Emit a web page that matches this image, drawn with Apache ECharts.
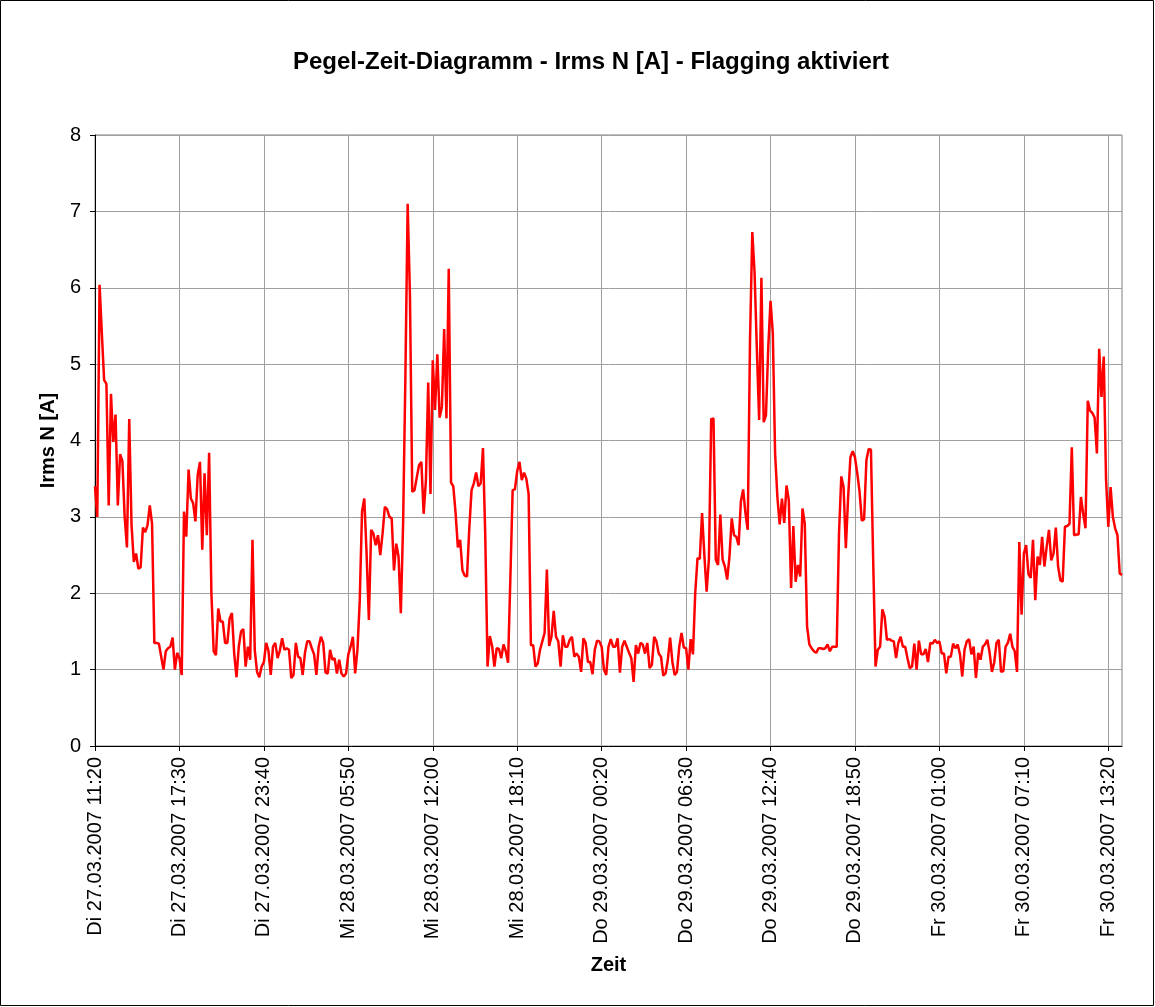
<!DOCTYPE html>
<html>
<head>
<meta charset="utf-8">
<title>Pegel-Zeit-Diagramm</title>
<script src="https://cdn.jsdelivr.net/npm/echarts@6/dist/echarts.min.js"></script>
<style>
  html, body { margin: 0; padding: 0; background: #fff; }
  #chart { width: 1155px; height: 1007px; }
</style>
</head>
<body>
<div id="chart"></div>
<script>
// Messreihe: alle 10 Minuten ab Di 27.03.2007 11:20
const startTime = Date.UTC(2007, 2, 27, 11, 20);
const stepMinutes = 10;
const weekdays = ["So", "Mo", "Di", "Mi", "Do", "Fr", "Sa"];

const irmsN = [
  3.4, 3.0, 6.04, 5.4, 4.79, 4.74, 3.15, 4.61, 3.98, 4.34,
  3.15, 3.82, 3.73, 3.0, 2.6, 4.28, 2.9, 2.41, 2.52, 2.32,
  2.34, 2.86, 2.8, 2.89, 3.15, 2.91, 1.35, 1.35, 1.34, 1.17,
  1.0, 1.24, 1.28, 1.3, 1.42, 1.0, 1.22, 1.15, 0.93, 3.07,
  2.74, 3.62, 3.24, 3.18, 2.94, 3.55, 3.72, 2.57, 3.57, 2.76,
  3.84, 2.0, 1.24, 1.19, 1.8, 1.63, 1.63, 1.35, 1.35, 1.67,
  1.74, 1.21, 0.9, 1.3, 1.5, 1.53, 1.04, 1.3, 1.13, 2.7,
  1.26, 0.97, 0.9, 1.04, 1.1, 1.35, 1.25, 0.93, 1.3, 1.35,
  1.15, 1.25, 1.41, 1.26, 1.28, 1.26, 0.89, 0.93, 1.35, 1.17,
  1.15, 0.93, 1.22, 1.37, 1.37, 1.28, 1.2, 0.93, 1.3, 1.43,
  1.35, 0.96, 0.95, 1.26, 1.13, 1.15, 0.95, 1.13, 0.95, 0.91,
  0.95, 1.2, 1.3, 1.43, 0.95, 1.26, 1.9, 3.07, 3.24, 2.52,
  1.65, 2.83, 2.78, 2.63, 2.76, 2.5, 2.78, 3.13, 3.1, 3.0,
  2.98, 2.3, 2.65, 2.48, 1.74, 2.91, 4.83, 7.1, 5.9, 3.33,
  3.35, 3.52, 3.68, 3.72, 3.04, 3.48, 4.76, 3.3, 5.05, 4.4,
  5.13, 4.3, 4.44, 5.46, 4.29, 6.25, 3.45, 3.4, 3.05, 2.6,
  2.7, 2.3, 2.23, 2.22, 2.85, 3.35, 3.44, 3.58, 3.4, 3.44,
  3.9, 2.75, 1.04, 1.44, 1.31, 1.04, 1.28, 1.27, 1.15, 1.33,
  1.24, 1.09, 2.2, 3.35, 3.36, 3.6, 3.72, 3.48, 3.58, 3.5,
  3.3, 1.32, 1.32, 1.04, 1.08, 1.26, 1.37, 1.48, 2.31, 1.31,
  1.43, 1.77, 1.43, 1.37, 1.04, 1.45, 1.3, 1.3, 1.39, 1.43,
  1.17, 1.21, 1.17, 0.97, 1.41, 1.35, 1.1, 1.1, 0.94, 1.26,
  1.38, 1.37, 1.3, 1.0, 0.93, 1.3, 1.4, 1.3, 1.3, 1.41,
  0.96, 1.3, 1.38, 1.3, 1.22, 1.15, 0.84, 1.32, 1.21, 1.35,
  1.33, 1.21, 1.35, 1.02, 1.06, 1.43, 1.37, 1.21, 1.17, 0.92,
  0.95, 1.13, 1.42, 1.1, 0.93, 0.97, 1.3, 1.48, 1.29, 1.28,
  1.0, 1.4, 1.2, 2.0, 2.46, 2.45, 3.05, 2.5, 2.02, 2.45,
  4.28, 4.29, 2.44, 2.37, 3.03, 2.44, 2.35, 2.18, 2.48, 2.98,
  2.76, 2.74, 2.63, 3.2, 3.36, 3.05, 2.83, 5.3, 6.73, 6.2,
  5.2, 4.27, 6.13, 4.24, 4.33, 5.22, 5.83, 5.4, 3.83, 3.26,
  2.9, 3.24, 2.92, 3.41, 3.22, 2.07, 2.88, 2.15, 2.37, 2.22,
  3.11, 2.91, 1.57, 1.33, 1.28, 1.24, 1.22, 1.28, 1.28, 1.27,
  1.28, 1.33, 1.24, 1.3, 1.3, 1.3, 2.78, 3.53, 3.39, 2.59,
  3.26, 3.78, 3.86, 3.78, 3.57, 3.33, 2.95, 2.97, 3.74, 3.89,
  3.88, 2.4, 1.04, 1.26, 1.3, 1.79, 1.69, 1.39, 1.4, 1.38,
  1.37, 1.15, 1.35, 1.43, 1.3, 1.3, 1.15, 1.02, 1.04, 1.34,
  1.0, 1.38, 1.2, 1.2, 1.27, 1.1, 1.35, 1.34, 1.39, 1.35,
  1.37, 1.21, 1.21, 0.95, 1.17, 1.17, 1.34, 1.28, 1.33, 1.2,
  0.91, 1.26, 1.37, 1.4, 1.2, 1.3, 0.89, 1.22, 1.13, 1.3,
  1.33, 1.39, 1.22, 0.97, 1.09, 1.35, 1.39, 0.97, 0.98, 1.3,
  1.35, 1.47, 1.3, 1.24, 0.97, 2.67, 1.72, 2.52, 2.63, 2.25,
  2.2, 2.7, 1.91, 2.48, 2.37, 2.74, 2.35, 2.61, 2.83, 2.43,
  2.52, 2.86, 2.35, 2.17, 2.15, 2.87, 2.88, 2.91, 3.91, 2.76,
  2.77, 2.77, 3.26, 3.04, 2.85, 4.52, 4.39, 4.36, 4.3, 3.83,
  5.2, 4.57, 5.1, 3.5, 2.87, 3.39, 3.0, 2.85, 2.76, 2.26, 2.24
];

const yTicks = [0, 1, 2, 3, 4, 5, 6, 7, 8];
const labelEvery = 37; // 6 h 10 min

function pad(n) {
  return n < 10 ? "0" + n : "" + n;
}

// Kategorien (Zeitstempel) zu jedem Messwert
const zeit = irmsN.map((v, i) => {
  const d = new Date(startTime + i * stepMinutes * 60000);
  return (
    weekdays[d.getUTCDay()] + " " +
    pad(d.getUTCDate()) + "." + pad(d.getUTCMonth() + 1) + "." + d.getUTCFullYear() + " " +
    pad(d.getUTCHours()) + ":" + pad(d.getUTCMinutes())
  );
});

const chart = echarts.init(document.getElementById("chart"));

const option = {
  backgroundColor: "#fff",
  animation: false,
  textStyle: { fontFamily: "Liberation Sans, Arial, sans-serif", color: "#000" },
  title: {
    text: "Pegel-Zeit-Diagramm - Irms N [A] - Flagging aktiviert",
    left: 288,
    top: 45,
    textStyle: { fontSize: 24, fontWeight: "bold", color: "#000" },
  },
  graphic: [
    {
      type: "rect",
      shape: { x: 0.5, y: 0.5, width: 1153, height: 1005 },
      style: { fill: "none", stroke: "#000", lineWidth: 1 },
      silent: true,
    },
  ],
  grid: {
    left: 95,
    right: 33,
    top: 135,
    bottom: 261,
    show: true,
    borderColor: "#808080",
    borderWidth: 1,
  },
  xAxis: {
    type: "category",
    data: zeit,
    boundaryGap: false,
    name: "Zeit",
    nameLocation: "middle",
    nameGap: 209,
    nameTextStyle: { fontSize: 20, fontWeight: "bold", color: "#000" },
    axisLine: { lineStyle: { color: "#000", width: 1 } },
    axisTick: { interval: labelEvery - 1, length: 5, lineStyle: { color: "#000" } },
    axisLabel: {
      interval: labelEvery - 1,
      rotate: 90,
      fontSize: 20,
      color: "#000",
      margin: 11,
    },
    splitLine: {
      show: true,
      interval: labelEvery - 1,
      lineStyle: { color: "#a0a0a0", width: 1 },
    },
  },
  yAxis: {
    type: "value",
    min: yTicks[0],
    max: yTicks[yTicks.length - 1],
    interval: 1,
    name: "Irms N [A]",
    nameLocation: "middle",
    nameGap: 36,
    nameRotate: 90,
    nameTextStyle: { fontSize: 20, fontWeight: "bold", color: "#000" },
    axisLine: { show: true, lineStyle: { color: "#000", width: 1 } },
    axisTick: { show: true, length: 5, lineStyle: { color: "#000" } },
    axisLabel: { fontSize: 20, color: "#000", margin: 14 },
    splitLine: { lineStyle: { color: "#a0a0a0", width: 1 } },
  },
  series: [
    {
      name: "Irms N [A]",
      type: "line",
      data: irmsN,
      showSymbol: false,
      lineStyle: { color: "#ff0000", width: 2.5 },
    },
  ],
};

chart.setOption(option);
</script>
</body>
</html>
